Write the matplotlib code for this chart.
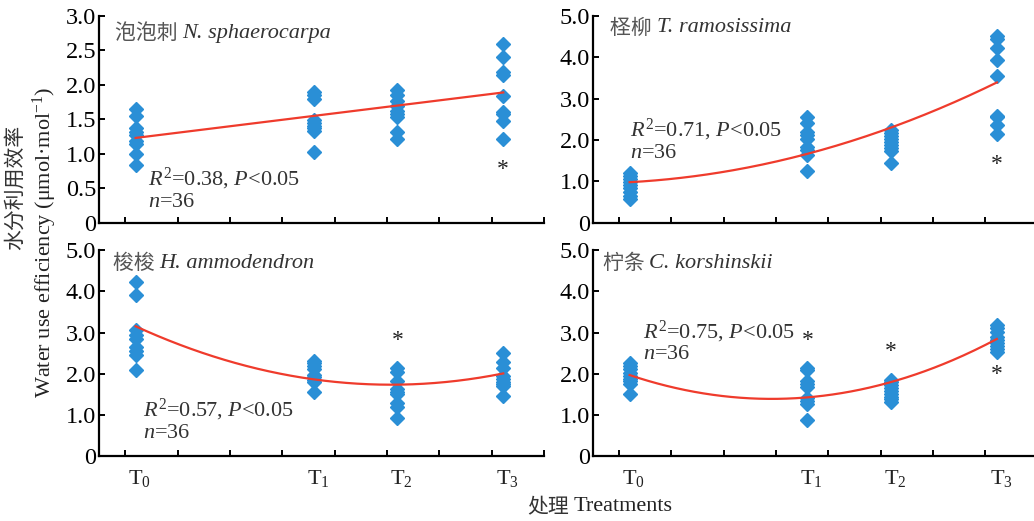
import numpy as np
import matplotlib
matplotlib.use("Agg")
import matplotlib.pyplot as plt
from matplotlib import transforms

plt.rcParams['font.family'] = ['Liberation Serif', 'Noto Sans CJK SC', 'DejaVu Sans']
plt.rcParams['mathtext.fontset'] = 'custom'
plt.rcParams['mathtext.rm'] = 'Liberation Serif'
plt.rcParams['mathtext.it'] = 'Liberation Serif:italic'

# treatment positions on the x axis (axis runs 0..8.5, ticks every 1.0 from 0.5)
x_pos = [0.7, 4.1, 5.7, 7.72]
t_labels = ['T$_0$', 'T$_1$', 'T$_2$', 'T$_3$']

# water use efficiency, 9 plants per treatment
ns_vals = [[1.65, 1.55, 1.38, 1.32, 1.27, 1.18, 1.14, 1.00, 0.83],
           [1.90, 1.85, 1.80, 1.49, 1.45, 1.41, 1.37, 1.33, 1.03],
           [1.93, 1.86, 1.77, 1.70, 1.62, 1.58, 1.54, 1.32, 1.21],
           [2.59, 2.41, 2.19, 2.15, 1.84, 1.60, 1.58, 1.47, 1.21]]
tr_vals = [[1.19, 1.12, 1.05, 0.98, 0.90, 0.83, 0.75, 0.65, 0.57],
           [2.56, 2.42, 2.20, 2.12, 2.02, 1.84, 1.76, 1.64, 1.26],
           [2.24, 2.17, 2.10, 2.03, 1.96, 1.88, 1.80, 1.73, 1.44],
           [4.52, 4.45, 4.23, 3.94, 3.55, 2.58, 2.55, 2.36, 2.15]]
ha_vals = [[4.22, 3.90, 3.05, 2.95, 2.85, 2.65, 2.55, 2.45, 2.10],
           [2.31, 2.25, 2.18, 2.12, 1.97, 1.92, 1.86, 1.80, 1.55],
           [2.13, 2.05, 1.83, 1.63, 1.55, 1.50, 1.28, 1.20, 0.92],
           [2.50, 2.28, 2.14, 1.95, 1.88, 1.80, 1.75, 1.70, 1.47]]
ck_vals = [[2.27, 2.20, 2.12, 2.03, 1.95, 1.88, 1.82, 1.75, 1.52],
           [2.13, 2.09, 1.82, 1.76, 1.69, 1.42, 1.35, 1.26, 0.88],
           [1.85, 1.79, 1.72, 1.65, 1.58, 1.50, 1.44, 1.38, 1.32],
           [3.18, 3.10, 3.02, 2.90, 2.82, 2.75, 2.68, 2.60, 2.52]]

# fitted curve values read at T0..T3
ns_fit = [1.23, 1.55, 1.70, 1.89]
tr_fit = [0.98, 1.66, 2.31, 3.39]
ha_fit = [3.15, 1.87, 1.73, 2.01]
ck_fit = [1.97, 1.42, 1.81, 2.84]

# outliers marked with *  (treatment index, value)
ns_star = [(3, 0.77)]
tr_star = [(3, 1.40)]
ha_star = [(2, 2.81)]
ck_star = [(1, 2.81), (2, 2.55), (3, 1.98)]

stats = ['$R^2$=0.38, $P$<0.05\n$n$=36', '$R^2$=0.71, $P$<0.05\n$n$=36',
         '$R^2$=0.57, $P$<0.05\n$n$=36', '$R^2$=0.75, $P$<0.05\n$n$=36']
cn_names = ['泡泡刺', '柽柳', '梭梭', '柠条']
lat_names = ['N. sphaerocarpa', 'T. ramosissima', 'H. ammodendron', 'C. korshinskii']

yt_small = ['0', '0.5', '1.0', '1.5', '2.0', '2.5', '3.0']
yt_big = ['0', '1.0', '2.0', '3.0', '4.0', '5.0']

blue = '#2a8fd6'
red = '#ef3b2c'
fs = 16

fig = plt.figure(figsize=(10.34, 5.21), dpi=100)
panels = [
    dict(rect=[0.0957, 0.5726, 0.4305, 0.3967], xmax=8.5, vals=ns_vals, fit=ns_fit, deg=1,
         star=ns_star, yt=yt_small, ymax=3.0, title=(0.31, 2.75), stat=(0.94, 0.16), tl=False),
    dict(rect=[0.5735, 0.5726, 0.4265, 0.3967], xmax=8.43, vals=tr_vals, fit=tr_fit, deg=2,
         star=tr_star, yt=yt_big, ymax=5.0, title=(0.33, 4.72), stat=(0.71, 1.44), tl=False),
    dict(rect=[0.0957, 0.1242, 0.4305, 0.396], xmax=8.5, vals=ha_vals, fit=ha_fit, deg=2,
         star=ha_star, yt=yt_big, ymax=5.0, title=(0.27, 4.68), stat=(0.84, 0.33), tl=True),
    dict(rect=[0.5735, 0.1242, 0.4265, 0.396], xmax=8.43, vals=ck_vals, fit=ck_fit, deg=2,
         star=ck_star, yt=yt_big, ymax=5.0, title=(0.19, 4.68), stat=(0.95, 2.23), tl=True),
]

for i, p in enumerate(panels):
    ax = fig.add_axes(p['rect'])
    ax.set_xlim(0, p['xmax'])
    ax.set_ylim(0, p['ymax'])
    for sp in ['top', 'right']:
        ax.spines[sp].set_visible(False)
    for sp in ['left', 'bottom']:
        ax.spines[sp].set_linewidth(1.6)
    ax.set_xticks(np.arange(0.5, p['xmax'] + 0.01, 1.0))
    ax.set_xticklabels([])
    yv = [float(s) for s in p['yt']]
    ax.set_yticks(yv)
    ax.set_yticklabels(p['yt'], fontsize=17.5)
    ax.tick_params(direction='in', length=4, width=1.4, pad=2)

    for x, v in zip(x_pos, p['vals']):
        ax.plot([x] * len(v), v, 'D', ms=7, color=blue, mec=blue, zorder=2)

    coef = np.polyfit(x_pos, p['fit'], p['deg'])
    xs = np.linspace(x_pos[0], x_pos[-1], 200)
    ax.plot(xs, np.polyval(coef, xs), color=red, lw=1.6, zorder=3)

    for k, y in p['star']:
        ax.text(x_pos[k], y, '*', ha='center', va='center', fontsize=17, color='#222')

    t = ax.text(p['title'][0], p['title'][1], cn_names[i] + ' ', family='Noto Sans CJK SC',
                fontsize=15, color='#555555', va='center')
    ax.annotate(lat_names[i], xy=(1, 0.5), xycoords=t, va='center', ha='left',
                fontsize=fs, style='italic', color='#333333')

    ax.text(p['stat'][0], p['stat'][1], stats[i], fontsize=fs, color='#333333',
            va='bottom', linespacing=1.05)

    if p['tl']:
        trans = transforms.blended_transform_factory(ax.transData, ax.transAxes)
        for x, lab in zip(x_pos, t_labels):
            ax.text(x + 0.08, -0.055, lab, transform=trans, ha='center', va='top',
                    fontsize=fs, color='#222')

fig.text(0.0145, 0.64, '水分利用效率', rotation=90, ha='center', va='center',
         family='Noto Sans CJK SC', fontsize=15, color='#333333')
fig.text(0.0435, 0.534, 'Water use efficiency (μmol·mol$^{-1}$)', rotation=90,
         ha='center', va='center', fontsize=fs, color='#222')
fig.text(0.55, 0.027, '处理', ha='right', va='center', family='Noto Sans CJK SC',
         fontsize=15, color='#333333')
fig.text(0.555, 0.027, 'Treatments', ha='left', va='center', fontsize=fs, color='#222')

fig.savefig('out.png', dpi=100)
